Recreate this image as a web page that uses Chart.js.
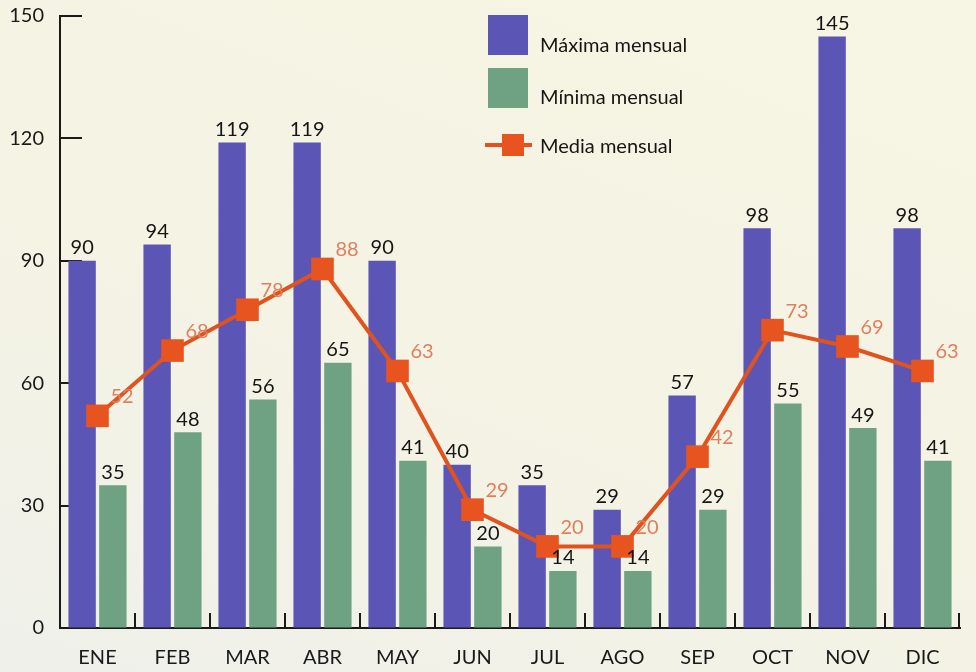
<!DOCTYPE html>
<html>
<head>
<meta charset="utf-8">
<script src="https://cdn.jsdelivr.net/npm/chart.js@4"></script>
<style>
  html, body { margin: 0; padding: 0; }
  body {
    width: 976px; height: 672px; overflow: hidden; position: relative;
    background: linear-gradient(200deg, #f7f5e3 0%, #f4f3e4 55%, #eff0ea 100%);
    font-family: Lato, "Open Sans", sans-serif;
  }
  #wrap { position: absolute; left: 0; top: 0; width: 976px; height: 672px; }
  .legend { position: absolute; left: 485px; top: 15px; color: #151515; font-size: 20px; }
  .item { position: absolute; left: 0; white-space: nowrap; }
  .box { position: absolute; width: 40px; height: 40px; left: 3px; }
  .txt { position: absolute; left: 55px; line-height: 24px; }
  .ln { position: absolute; left: 0; width: 47px; height: 4px; background: #e0531f; }
  .mk { position: absolute; left: 17px; width: 22px; height: 22px; background: #e8541f; }
</style>
</head>
<body>
<div id="wrap"><canvas id="climaChart" width="976" height="672"></canvas></div>
<div class="legend">
  <div class="item" style="top:0">
    <div class="box" style="top:0;background:#5b56b6"></div>
    <div class="txt" style="top:17px">Máxima mensual</div>
  </div>
  <div class="item" style="top:53px">
    <div class="box" style="top:0;background:#6fa283"></div>
    <div class="txt" style="top:16px">Mínima mensual</div>
  </div>
  <div class="item" style="top:108px">
    <div class="ln" style="top:20px"></div>
    <div class="mk" style="top:11px"></div>
    <div class="txt" style="top:10px">Media mensual</div>
  </div>
</div>
<script>
const meses = ['ENE', 'FEB', 'MAR', 'ABR', 'MAY', 'JUN', 'JUL', 'AGO', 'SEP', 'OCT', 'NOV', 'DIC'];
const maxima = [90, 94, 119, 119, 90, 40, 35, 29, 57, 98, 145, 98];
const minima = [35, 48, 56, 65, 41, 20, 14, 14, 29, 55, 49, 41];
const media = [52, 68, 78, 88, 63, 29, 20, 20, 42, 73, 69, 63];
const yTicks = [0, 30, 60, 90, 120, 150];

const fuente = 'Lato, "Open Sans", sans-serif';

// marcas de los ejes hacia dentro
const marcasEjes = {
  id: 'marcasEjes',
  beforeDatasetsDraw(chart) {
    const { ctx, chartArea, scales } = chart;
    ctx.save();
    ctx.strokeStyle = '#1a1a1a';
    ctx.lineWidth = 2;
    yTicks.forEach((v) => {
      if (v === 0) return;
      const py = Math.round(scales.y.getPixelForValue(v));
      ctx.beginPath();
      ctx.moveTo(chartArea.left, py);
      ctx.lineTo(chartArea.left + 22, py);
      ctx.stroke();
    });
    for (let i = 0; i < meses.length; i++) {
      const px = i < meses.length - 1
        ? (scales.x.getPixelForValue(i) + scales.x.getPixelForValue(i + 1)) / 2
        : chartArea.right - 1;
      ctx.beginPath();
      ctx.moveTo(px, chartArea.bottom);
      ctx.lineTo(px, chartArea.bottom - 15);
      ctx.stroke();
    }
    ctx.restore();
  },
};

// etiquetas de valores
const etiquetas = {
  id: 'etiquetas',
  afterDatasetsDraw(chart) {
    const { ctx } = chart;
    ctx.save();
    ctx.font = '20px ' + fuente;
    ctx.textAlign = 'center';
    ctx.textBaseline = 'bottom';
    ctx.fillStyle = '#151515';
    [0, 1].forEach((d) => {
      const valores = chart.data.datasets[d].data;
      chart.getDatasetMeta(d).data.forEach((bar, i) => {
        ctx.fillText(valores[i], bar.x, bar.y - 3);
      });
    });
    ctx.textAlign = 'left';
    ctx.textBaseline = 'middle';
    ctx.fillStyle = '#e07f5e';
    chart.getDatasetMeta(2).data.forEach((pt, i) => {
      ctx.fillText(media[i], pt.x + 13, pt.y - 19);
    });
    ctx.restore();
  },
};

const config = {
  type: 'bar',
  data: {
    labels: meses,
    datasets: [
      {
        label: 'Máxima mensual',
        data: maxima,
        backgroundColor: '#5b56b6',
        barPercentage: 0.89,
        categoryPercentage: 0.82,
        order: 1,
      },
      {
        label: 'Mínima mensual',
        data: minima,
        backgroundColor: '#6fa283',
        barPercentage: 0.89,
        categoryPercentage: 0.82,
        order: 1,
      },
      {
        type: 'line',
        label: 'Media mensual',
        data: media,
        borderColor: '#e0531f',
        borderWidth: 4,
        backgroundColor: '#e8541f',
        pointStyle: 'rect',
        pointRadius: 16,
        pointBorderWidth: 0,
        tension: 0,
        order: 0,
      },
    ],
  },
  options: {
    responsive: false,
    animation: false,
    layout: { padding: { top: 8, right: 0, left: 0, bottom: 0 } },
    plugins: {
      legend: { display: false },
      tooltip: { enabled: false },
    },
    scales: {
      x: {
        grid: { drawOnChartArea: false, drawTicks: false },
        border: { display: true, color: '#1a1a1a', width: 2 },
        ticks: { color: '#1a1a1a', font: { family: fuente, size: 20 }, padding: 18 },
        afterFit: (scale) => {
          scale.height = 44;
          scale.paddingLeft = 0;
          scale.paddingRight = 0;
        },
      },
      y: {
        min: 0,
        max: 150,
        grid: { drawOnChartArea: false, drawTicks: false },
        border: { display: true, color: '#1a1a1a', width: 2 },
        ticks: { stepSize: 30, color: '#1a1a1a', font: { family: fuente, size: 20 }, padding: 16 },
        afterFit: (scale) => {
          scale.width = 60;
          scale.paddingTop = 0;
          scale.paddingBottom = 0;
        },
      },
    },
  },
  plugins: [marcasEjes, etiquetas],
};

new Chart(document.getElementById('climaChart').getContext('2d'), config);
</script>
</body>
</html>
